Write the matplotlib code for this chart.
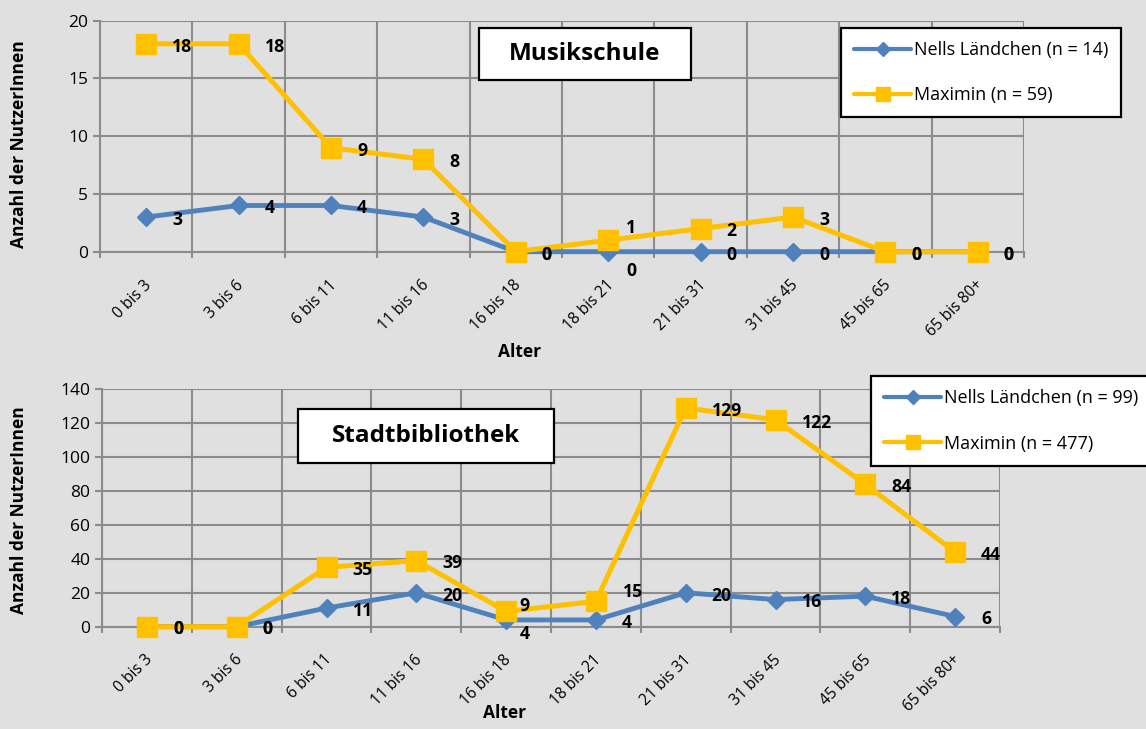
import matplotlib
matplotlib.use("Agg")
import matplotlib.pyplot as plt
import matplotlib.transforms as mtransforms
from matplotlib.lines import Line2D
from matplotlib.patches import Rectangle
import numpy as np

# ---------------- data ----------------
categories = ["0 bis 3", "3 bis 6", "6 bis 11", "11 bis 16", "16 bis 18",
              "18 bis 21", "21 bis 31", "31 bis 45", "45 bis 65", "65 bis 80+"]

musik_nells = [3, 4, 4, 3, 0, 0, 0, 0, 0, 0]
musik_maximin = [18, 18, 9, 8, 0, 1, 2, 3, 0, 0]
musik_labels = ["Nells Ländchen (n = 14)", "Maximin (n = 59)"]
musik_title = "Musikschule"
musik_yticks = [0, 5, 10, 15, 20]

biblio_nells = [0, 0, 11, 20, 4, 4, 20, 16, 18, 6]
biblio_maximin = [0, 0, 35, 39, 9, 15, 129, 122, 84, 44]
biblio_labels = ["Nells Ländchen (n = 99)", "Maximin (n = 477)"]
biblio_title = "Stadtbibliothek"
biblio_yticks = [0, 20, 40, 60, 80, 100, 120, 140]

x_label = "Alter"
y_label = "Anzahl der NutzerInnen"

# ---------------- style ----------------
W, H = 1146, 729
DPI = 100
BG = "#e0e0e0"
GRID = "#8c8c8c"
BLUE = "#4f81bd"
YELLOW = "#ffc000"
FONT = ["Open Sans", "DejaVu Sans"]
plt.rcParams["font.family"] = FONT

fig = plt.figure(figsize=(W / DPI, H / DPI), dpi=DPI, facecolor=BG)


def fx(px):
    return px / W


def fy(py):
    return 1 - py / H


def make_axes(left, top, right, bottom):
    return fig.add_axes([fx(left), fy(bottom), fx(right) - fx(left), fy(top) - fy(bottom)])


# label offsets in pixels (dx to left edge, dy downwards to visual centre)
STD = (26, 1.5)


def draw_chart(ax, nells, maximin, yticks, xpad, override):
    x = np.arange(len(categories))
    ax.set_facecolor(BG)
    ax.set_xlim(-0.5, len(categories) - 0.5)
    ax.set_ylim(yticks[0], yticks[-1])
    ax.set_yticks(yticks)
    ax.set_xticks(x)
    ax.set_xticklabels(categories, rotation=45, ha="right", va="center",
                       rotation_mode="anchor", fontsize=11.2)
    ax.set_xticks(np.arange(-0.5, len(categories)), minor=True)
    ax.grid(True, which="minor", axis="x", color=GRID, lw=1.5)
    ax.grid(True, which="major", axis="y", color=GRID, lw=1.5)
    ax.set_axisbelow(True)
    ax.tick_params(axis="x", which="major", length=0, pad=xpad)
    ax.tick_params(axis="x", which="minor", length=4.5, width=1.5, color=GRID)
    ax.tick_params(axis="y", length=5, width=1.5, color=GRID, labelsize=12.5, pad=3.5)
    for s in ["top", "right"]:
        ax.spines[s].set_visible(False)
    for s in ["left", "bottom"]:
        ax.spines[s].set_color(GRID)
        ax.spines[s].set_linewidth(1.5)
    shift = mtransforms.ScaledTranslation(3 / DPI, 0, fig.dpi_scale_trans)
    for lab in ax.get_xticklabels():
        lab.set_transform(lab.get_transform() + shift)

    ax.plot(x, nells, color=BLUE, lw=3.5, marker="D", ms=8.7,
            mec=BLUE, mfc=BLUE, zorder=3, clip_on=False)
    ax.plot(x, maximin, color=YELLOW, lw=3.6, marker="s", ms=14.4,
            mec=YELLOW, mfc=YELLOW, zorder=4, clip_on=False)

    for key, series in (("n", nells), ("m", maximin)):
        for i, v in enumerate(series):
            dx, dy = override.get((key, i), STD)
            ax.annotate(str(v), (x[i], v), xytext=(dx, -(dy + 6.3)),
                        textcoords="offset pixels", ha="left", va="baseline",
                        fontsize=12.7, fontweight="bold", color="black",
                        zorder=6, annotation_clip=False)


def title_box(text, left, top, right, bottom):
    fig.patches.append(Rectangle((fx(left), fy(bottom)), fx(right) - fx(left),
                                 fy(top) - fy(bottom), transform=fig.transFigure,
                                 facecolor="white", edgecolor="black", lw=1.6, zorder=5))
    fig.text(fx((left + right) / 2), fy((top + bottom) / 2), text, ha="center",
             va="center", fontsize=17.5, fontweight="bold", zorder=6)


def legend(ax, labels, left, top, spacing):
    handles = [
        Line2D([], [], color=BLUE, lw=3, marker="D", ms=7, solid_capstyle="round"),
        Line2D([], [], color=YELLOW, lw=3, marker="s", ms=9.5, solid_capstyle="round"),
    ]
    leg = ax.legend(handles, labels, loc="upper left",
                    bbox_to_anchor=(fx(left), fy(top)), bbox_transform=fig.transFigure,
                    fontsize=13.0, frameon=True, fancybox=False, framealpha=1,
                    edgecolor="black", facecolor="white", borderpad=0.73,
                    labelspacing=spacing, handlelength=3.15, handletextpad=0.15,
                    borderaxespad=0)
    leg.get_frame().set_linewidth(1.6)
    leg.set_zorder(7)


# ---------------- top chart ----------------
ax1 = make_axes(100, 20.7, 1024, 251.7)
draw_chart(ax1, musik_nells, musik_maximin, musik_yticks, 22.5,
           {("m", 5): (18, -13), ("n", 5): (18, 17.5)})
legend(ax1, musik_labels, 841, 28, 1.5)
title_box(musik_title, 479, 28, 691, 80)
fig.text(fx(520), fy(352), x_label, ha="center", va="center",
         fontsize=12.5, fontweight="bold")
fig.text(fx(19), fy(144), y_label, ha="center", va="center", rotation=90,
         fontsize=12.5, fontweight="bold")

# ---------------- bottom chart ----------------
ax2 = make_axes(102, 389.3, 1000, 626.7)
draw_chart(ax2, biblio_nells, biblio_maximin, biblio_yticks, 22,
           {("m", 4): (13, -7), ("n", 4): (14, 12.6), ("m", 5): (27, -11)})
legend(ax2, biblio_labels, 871, 376, 1.52)
title_box(biblio_title, 298, 409, 554, 463)
fig.text(fx(505), fy(713), x_label, ha="center", va="center",
         fontsize=12.5, fontweight="bold")
fig.text(fx(19), fy(510), y_label, ha="center", va="center", rotation=90,
         fontsize=12.5, fontweight="bold")

fig.savefig("out.png", dpi=DPI, facecolor=BG)
